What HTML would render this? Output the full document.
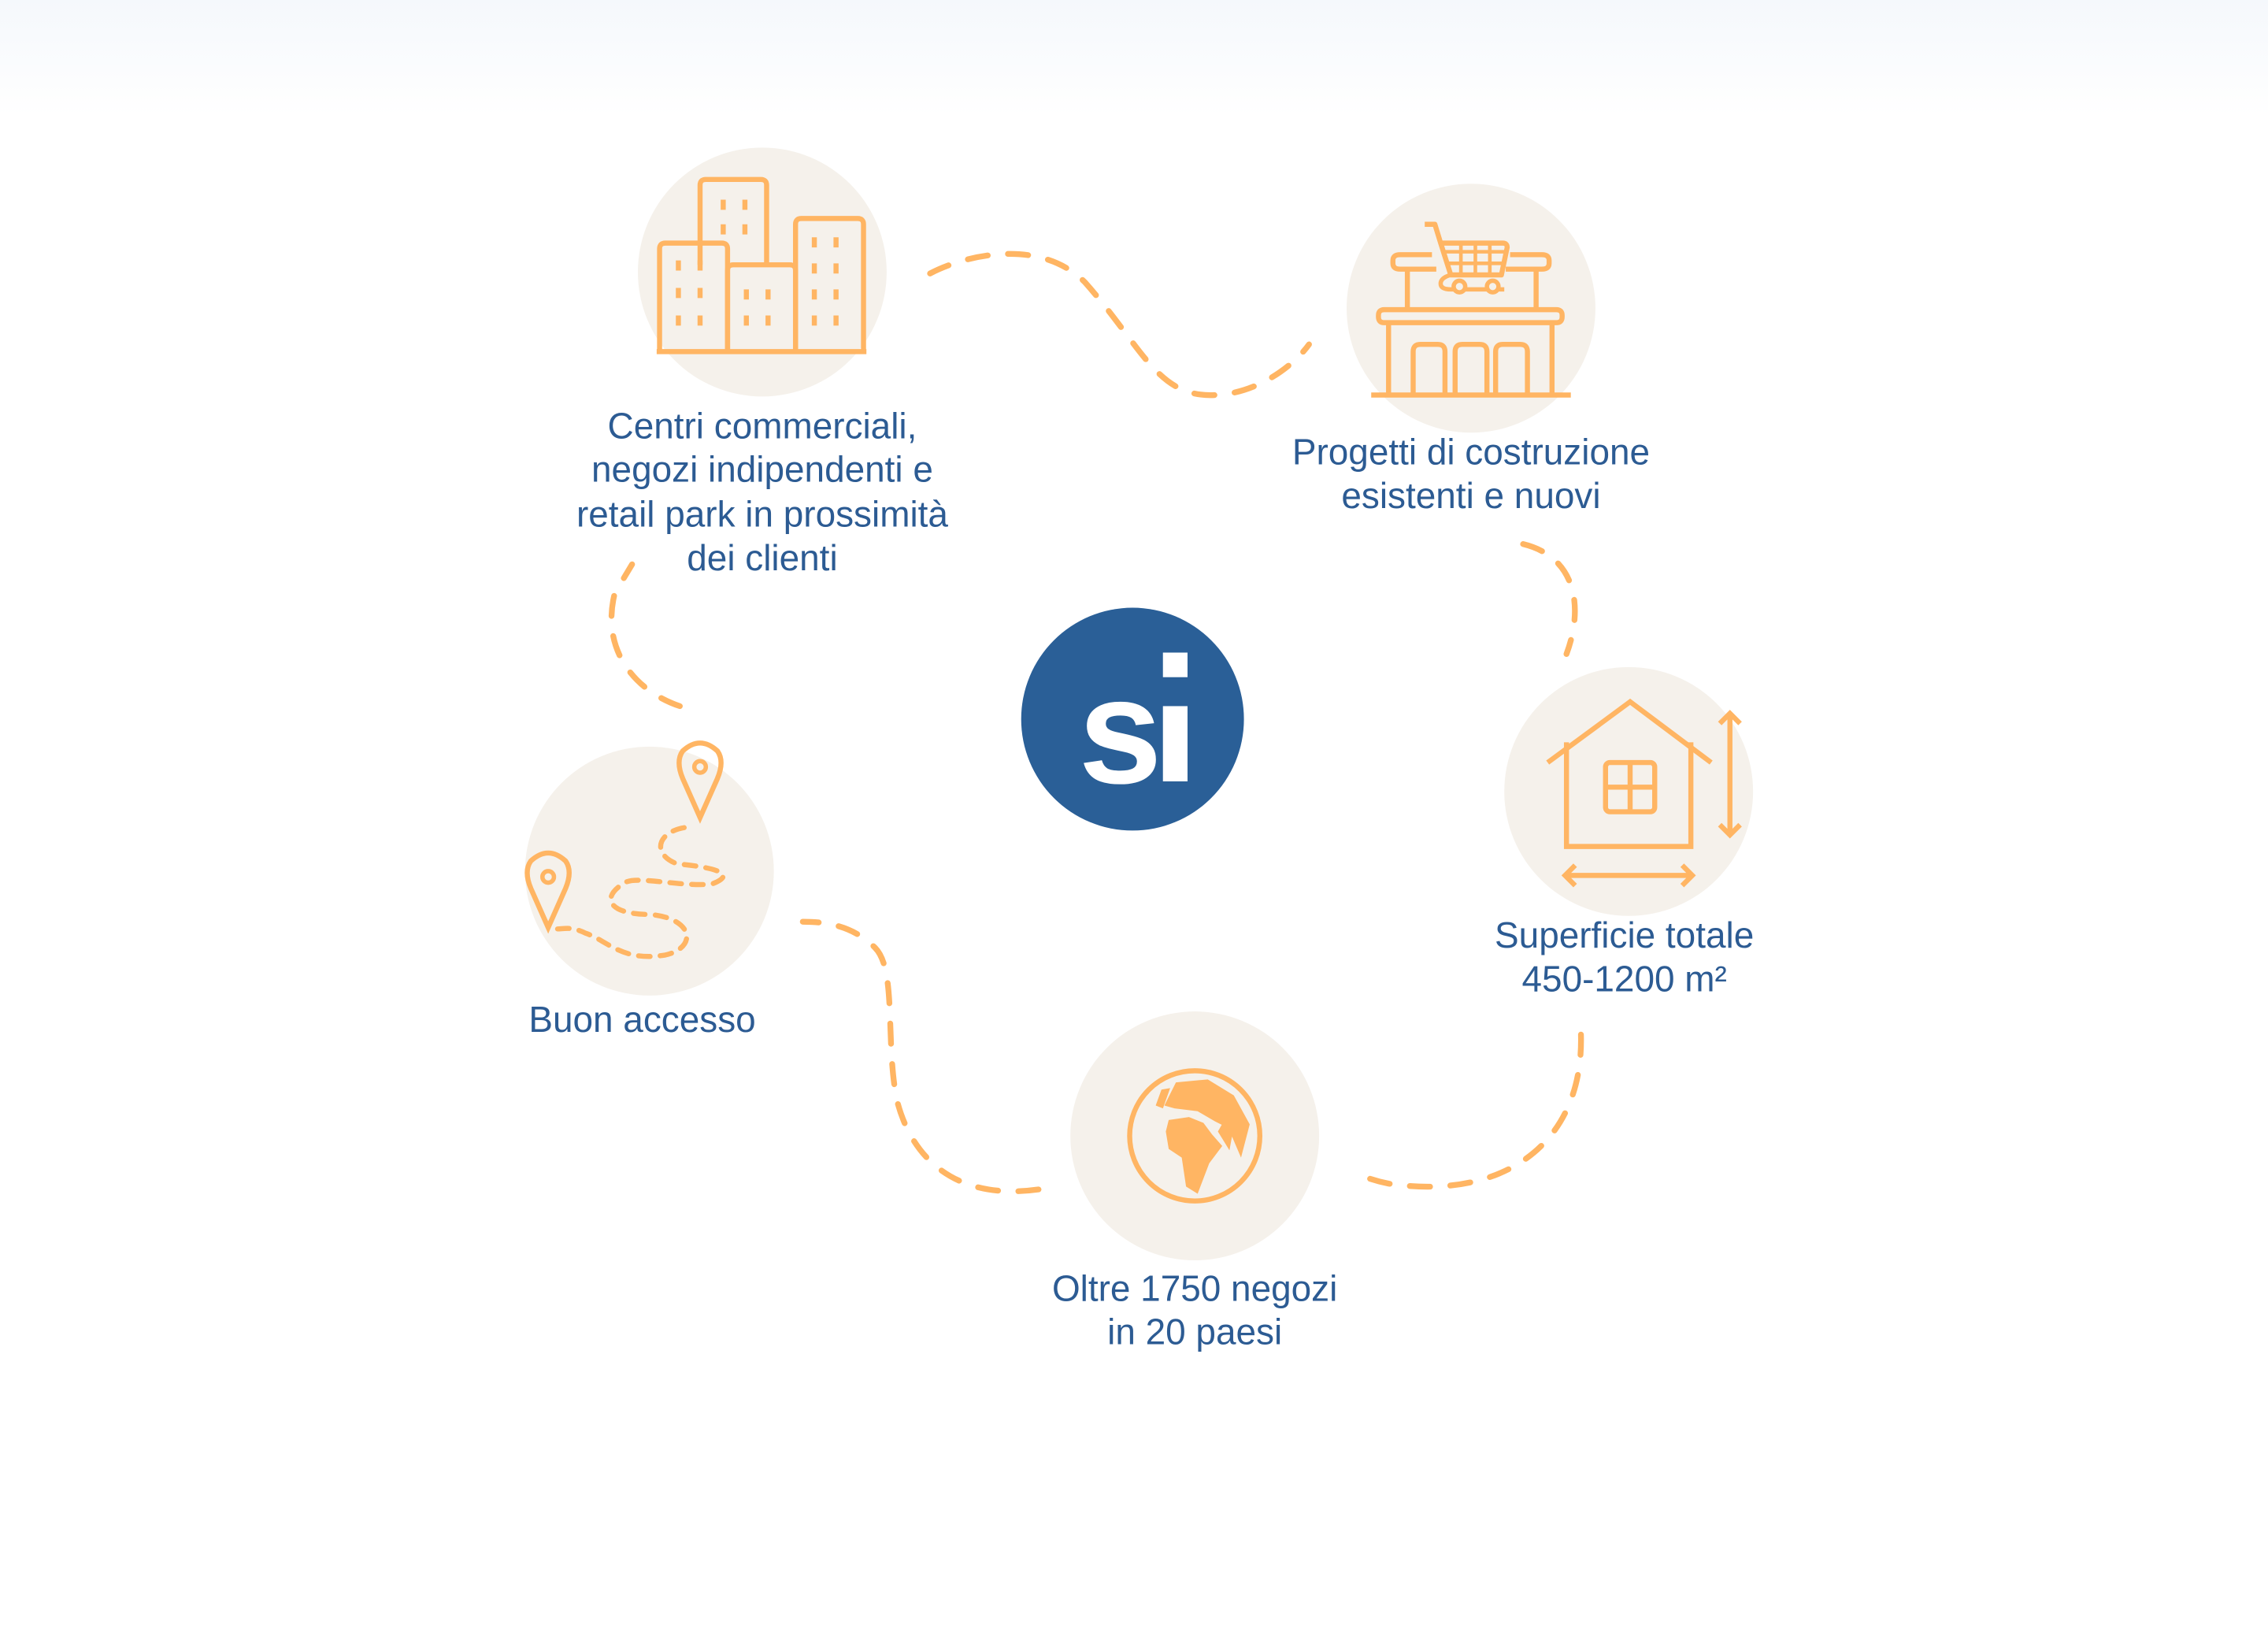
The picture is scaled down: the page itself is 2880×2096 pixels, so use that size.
<!DOCTYPE html>
<html><head><meta charset="utf-8"><style>
html,body{margin:0;padding:0;background:#fff}
svg{display:block}
text{font-family:"Liberation Sans",sans-serif;fill:#2c5b93;font-size:25px;text-anchor:middle}
</style></head><body>
<svg width="2880" height="2096" viewBox="0 0 1568 1141" preserveAspectRatio="none" xmlns="http://www.w3.org/2000/svg">
<defs><linearGradient id="g" x1="0" y1="0" x2="0" y2="1"><stop offset="0" stop-color="#f5f8fc"/><stop offset="1" stop-color="#ffffff"/></linearGradient></defs>
<rect width="1568" height="80" fill="url(#g)"/>
<g fill="none" stroke="#ffb563" stroke-width="4" stroke-linecap="round" stroke-dasharray="14 14">
<path d="M643,189 C670,175 720,165 750,195 C790,240 800,275 840,273 C870,272 895,252 905,238"/>
<path d="M1053,376 C1090,385 1095,420 1083,452"/>
<path d="M1093,715 C1095,790 1040,830 960,818 C950,816 942,813 935,810"/>
<path d="M718,822 C660,830 630,800 620,760 C612,720 620,670 605,655 C590,640 572,637 555,637"/>
<path d="M470,488 C440,478 415,450 425,410 L437,390"/>
</g>
<g fill="#f5f1eb">
<circle cx="527" cy="188" r="86"/>
<circle cx="1017" cy="213" r="86"/>
<circle cx="1126" cy="547" r="86"/>
<circle cx="826" cy="785" r="86"/>
<circle cx="449" cy="602" r="86"/>
</g>
<circle cx="783" cy="497" r="77" fill="#2a5f97"/>
<text x="773" y="541" style="font-size:104px;font-weight:bold;fill:#fff;letter-spacing:-3px">s</text>
<rect x="804" y="451" width="17" height="17" fill="#fff"/>
<rect x="804" y="488" width="17" height="52" fill="#fff"/>
<g fill="none" stroke="#ffb563" stroke-width="3.5">
<path d="M484,183 V128 Q484,124 488,124 H526 Q530,124 530,128 V183"/>
<path d="M456,243 V172 Q456,168 460,168 H499 Q503,168 503,172 V243"/>
<path d="M503,243 V187 Q503,183 507,183 H546 Q550,183 550,187 V243"/>
<path d="M550,243 V155 Q550,151 554,151 H593 Q597,151 597,155 V243"/>
<path d="M454,243 H599"/>
<path d="M500,138v7M515,138v7M500,155v7M515,155v7M469,180v7M484,180v7M469,199v7M484,199v7M469,218v7M484,218v7M516,200v7M531,200v7M516,218v7M531,218v7M563,164v7M578,164v7M563,182v7M578,182v7M563,200v7M578,200v7M563,218v7M578,218v7"/>
</g>
<g fill="none" stroke="#ffb563" stroke-width="3.5" stroke-linejoin="round">
<path d="M990,176 H968 Q963,176 963,180 V182 Q963,186 968,186 H993"/>
<path d="M1044,176 H1066 Q1071,176 1071,180 V182 Q1071,186 1066,186 H1041"/>
<path d="M973,186 V215 M1062,186 V215"/>
<path d="M957,214 H1076 Q1080,214 1080,218 V219 Q1080,223 1076,223 H957 Q953,223 953,219 V218 Q953,214 957,214Z"/>
<path d="M960,223 V273 M1073,223 V273 M948,273 H1086"/>
<path d="M977,273 V243 Q977,238 982,238 H994 Q999,238 999,243 V273"/>
<path d="M1006,273 V243 Q1006,238 1011,238 H1023 Q1028,238 1028,243 V273"/>
<path d="M1034,273 V243 Q1034,238 1039,238 H1051 Q1056,238 1056,243 V273"/>
<path d="M985,155 H992 L996,168 L1003,190 H1038 L1042,171 Q1042,168 1039,168 H996"/>
<path d="M1003,190 Q996,192 996,196 Q996,200 1003,200 H1040" stroke-width="3"/>
<path d="M998,174 H1040 M1000,182 H1039 M1010,168 V190 M1020,168 V190 M1030,168 V190" stroke-width="2.5"/>
<circle cx="1009" cy="198" r="4" stroke-width="3" fill="#f5f1eb"/>
<circle cx="1032" cy="198" r="4" stroke-width="3" fill="#f5f1eb"/>
</g>
<g fill="none" stroke="#ffb563" stroke-width="3.5">
<path d="M1070,527 L1127,485 L1183,527"/>
<path d="M1083,513 V585 H1169 V513"/>
<rect x="1110" y="527" width="34" height="34" rx="3"/>
<path d="M1127,527 V561 M1110,544 H1144"/>
<path d="M1196,493 V577 M1189,500 L1196,493 L1203,500 M1189,570 L1196,577 L1203,570"/>
<path d="M1082,605 H1170 M1089,598 L1082,605 L1089,612 M1163,598 L1170,605 L1163,612"/>
</g>
<circle cx="826" cy="785" r="45" fill="none" stroke="#ffb563" stroke-width="3.5"/>
<g fill="#ffb563">
<path d="M805,764 L813,748 L835,746 L853,757 L864,777 L858,800 L852,786 L848,779 L840,775 L828,768 L812,766Z"/>
<path d="M808,774 L822,772 L832,776 L838,784 L845,792 L836,804 L828,825 L820,820 L817,800 L808,794 L806,782Z"/>
<path d="M842,782 L846,775 L852,784 L850,795Z"/>
<path d="M799,764 L803,753 L809,752 L804,766Z"/>
</g>
<g fill="none" stroke="#ffb563" stroke-width="3.5">
<path d="M484,565 L472,538 Q467,526 472,519 Q484,508 496,519 Q501,526 496,538Z"/>
<circle cx="484" cy="530" r="4" stroke-width="3"/>
<path d="M379,641 L367,614 Q362,602 367,595 Q379,584 391,595 Q396,602 391,614Z"/>
<circle cx="379" cy="606" r="4" stroke-width="3"/>
<path stroke-dasharray="8 7" stroke-linecap="round" d="M473,572 C455,575 450,590 468,597 C500,600 508,605 492,611 C470,613 440,605 432,610 C415,620 420,632 450,632 C480,635 482,655 460,660 C430,665 420,650 405,645 C395,640 390,642 385,642"/>
</g>
<text x="527" y="303">Centri commerciali,</text>
<text x="527" y="333">negozi indipendenti e</text>
<text x="527" y="364">retail park in prossimità</text>
<text x="527" y="394">dei clienti</text>
<text x="1017" y="321">Progetti di costruzione</text>
<text x="1017" y="351">esistenti e nuovi</text>
<text x="1123" y="655">Superficie totale</text>
<text x="1123" y="685">450-1200 m²</text>
<text x="826" y="899">Oltre 1750 negozi</text>
<text x="826" y="929">in 20 paesi</text>
<text x="444" y="713">Buon accesso</text>
</svg>
</body></html>
